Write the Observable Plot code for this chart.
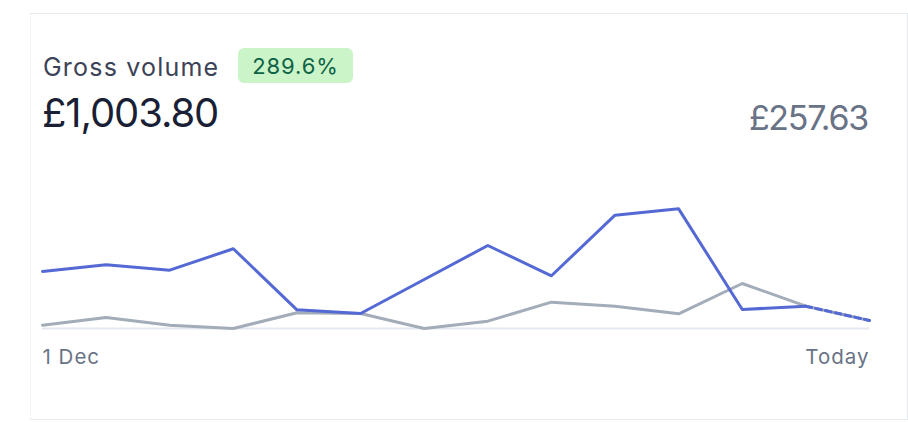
<!DOCTYPE html>
<html>
<head>
<meta charset="utf-8">
<script src="https://cdn.jsdelivr.net/npm/d3@7"></script>
<script src="https://cdn.jsdelivr.net/npm/@observablehq/plot@0.6"></script>
<style>
  html, body { margin: 0; padding: 0; background: #fff; }
  body { width: 908px; height: 422px; position: relative; overflow: hidden; font-family: Inter, "Noto Sans", sans-serif; }
  .card { position: absolute; left: 30px; top: 13px; width: 876px; height: 405px;
          border: 1.5px solid #e6e9ee; border-left-color: #f3f4f7; box-sizing: content-box; }
  .abs { position: absolute; white-space: nowrap; line-height: 1; }
  #title { left: 43px; top: 55px; font-size: 25px; letter-spacing: 1.2px; color: #3c4257; }
  #badge { left: 238px; top: 48px; width: 115px; height: 35px; border-radius: 6px; background: #cbf4c9;
           color: #0e6245; font-size: 22px; letter-spacing: 0.9px; display: flex; align-items: center; justify-content: center; }
  #total { left: 42px; top: 93px; font-size: 40px; letter-spacing: -1.1px; color: #1a1f36; }
  #prev { right: 40px; top: 101px; font-size: 34px; letter-spacing: -1.3px; color: #697386; }
  #chart { position: absolute; left: 30px; top: 150px; }
  #chart text { letter-spacing: 1px; }
</style>
</head>
<body>
<div class="card"></div>
<div class="abs" id="title"></div>
<div class="abs" id="badge"></div>
<div class="abs" id="total"></div>
<div class="abs" id="prev"></div>
<div id="chart"></div>
<script>
// Data
const dates = ["1 Dec","2 Dec","3 Dec","4 Dec","5 Dec","6 Dec","7 Dec","8 Dec","9 Dec","10 Dec","11 Dec","12 Dec","13 Dec","Today"];
const current = [75.4, 84.2, 77.1, 105.4, 24.7, 19.8, 64.8, 109.7, 69.7, 149.8, 158.2, 25.1, 29.5, 10.6];
const previous = [4.4, 14.5, 4.4, 0, 20.8, 19.8, 0, 9.7, 34.8, 29.5, 19.4, 59.5, 29.5, 10.6];
const tickLabels = ["1 Dec", "Today"];
const titleText = "Gross volume";
const changeText = "289.6%";
const totalText = "£1,003.80";
const previousText = "£257.63";

document.getElementById("title").textContent = titleText;
document.getElementById("badge").textContent = changeText;
document.getElementById("total").textContent = totalText;
document.getElementById("prev").textContent = previousText;

const cur = dates.map((d, i) => ({date: d, value: current[i]}));
const prev = dates.map((d, i) => ({date: d, value: previous[i]}));
const lastIdx = dates.length - 1;
const curSolid = cur.slice(0, lastIdx);
const curDashed = cur.slice(lastIdx - 1);

const chart = Plot.plot({
  width: 878,
  height: 230,
  marginLeft: 12,
  marginRight: 39,
  marginTop: 0,
  marginBottom: 52,
  style: {fontFamily: "Inter, 'Noto Sans', sans-serif", overflow: "visible", background: "transparent"},
  x: {type: "point", domain: dates, padding: 0, round: false, axis: null},
  y: {domain: [0, 235.3], axis: null},
  marks: [
    Plot.ruleY([0], {stroke: "#e3e8ee", strokeWidth: 2}),
    Plot.line(prev, {x: "date", y: "value", stroke: "#a3acb9", strokeWidth: 3, curve: "linear"}),
    Plot.line(curSolid, {x: "date", y: "value", stroke: "#5469d4", strokeWidth: 3, curve: "linear"}),
    Plot.line(curDashed, {x: "date", y: "value", stroke: "#5469d4", strokeWidth: 3, strokeDasharray: "6,4", curve: "linear"}),
    Plot.text([tickLabels[0]], {x: () => dates[0], y: () => 0, text: d => d, textAnchor: "start", lineAnchor: "bottom", dy: 35, fontSize: 20.5, fill: "#697386"}),
    Plot.text([tickLabels[1]], {x: () => dates[lastIdx], y: () => 0, text: d => d, textAnchor: "end", lineAnchor: "bottom", dy: 35, fontSize: 20.5, fill: "#697386"})
  ]
});
document.getElementById("chart").appendChild(chart);
</script>
</body>
</html>
